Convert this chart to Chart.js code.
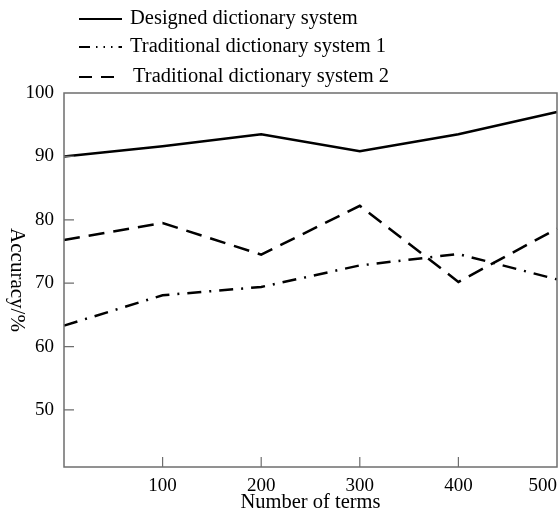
<!DOCTYPE html>
<html>
<head>
<meta charset="utf-8">
<script src="https://cdn.jsdelivr.net/npm/chart.js@4.4.1/dist/chart.umd.min.js"></script>
<style>
  html, body { margin: 0; padding: 0; background: #fff; }
  #wrap { width: 560px; height: 515px; }
</style>
</head>
<body>
<div id="wrap"><canvas id="myChart" width="560" height="515"></canvas></div>
<script>
// data
var termCounts = ['0', '100', '200', '300', '400', '500'];
var designedAcc = [90, 91.6, 93.5, 90.8, 93.5, 97];
var traditional1Acc = [63.3, 68.1, 69.4, 72.8, 74.6, 70.6];
var traditional2Acc = [76.8, 79.5, 74.5, 82.2, 70.2, 78.6];
var yTicks = [50, 60, 70, 80, 90, 100];

var serif = '"Liberation Serif", "DejaVu Serif", serif';
var axisColor = '#6e6e6e';

var ctx = document.getElementById('myChart').getContext('2d');

// frame, inward tick marks, rotated y title and legend
var decorations = {
    id: 'decorations',
    afterDraw: function (chart) {
        var c = chart.ctx;
        var area = chart.chartArea;
        var xs = chart.scales.x, ys = chart.scales.y;
        c.save();
        c.strokeStyle = axisColor;
        c.lineWidth = 1.5;
        c.strokeRect(area.left, area.top, area.right - area.left, area.bottom - area.top);

        c.lineWidth = 1.2;
        c.beginPath();
        yTicks.forEach(function (v) {
            if (v >= 100) return;
            var py = ys.getPixelForValue(v);
            c.moveTo(area.left, py);
            c.lineTo(area.left + 10, py);
        });
        termCounts.forEach(function (t, i) {
            if (i == 0 || i == termCounts.length - 1) return;
            var px = xs.getPixelForValue(i);
            c.moveTo(px, area.bottom);
            c.lineTo(px, area.bottom - 10);
        });
        c.stroke();

        // y title, reads top to bottom
        c.fillStyle = '#000';
        c.font = '21px ' + serif;
        c.textAlign = 'center';
        c.textBaseline = 'middle';
        c.translate(17, 280);
        c.rotate(Math.PI / 2);
        c.fillText('Accuracy/%', 0, 0);
        c.restore();

        // legend
        c.save();
        c.font = '20.5px ' + serif;
        c.textBaseline = 'middle';
        c.fillStyle = '#000';
        var rows = [19, 47, 77];
        var textX = [130, 130, 133];
        chart.data.datasets.forEach(function (ds, i) {
            c.strokeStyle = '#000';
            c.lineWidth = 2;
            c.setLineDash(ds.legendDash || []);
            c.beginPath();
            c.moveTo(79, rows[i]);
            c.lineTo(122, rows[i]);
            c.stroke();
            c.setLineDash([]);
            c.fillText(ds.label, textX[i], rows[i]);
        });
        c.restore();
    }
};

var graphData = {
    type: 'line',
    data: {
        labels: termCounts,
        datasets: [
            {
                label: 'Designed dictionary system',
                data: designedAcc,
                borderColor: '#000',
                borderWidth: 2.5,
                pointRadius: 0,
                tension: 0
            },
            {
                label: 'Traditional dictionary system 1',
                data: traditional1Acc,
                borderColor: '#000',
                borderWidth: 2.5,
                borderDash: [14, 8, 2, 8],
                legendDash: [11, 6, 1.5, 6, 1.5, 6, 1.5, 6],
                pointRadius: 0,
                tension: 0
            },
            {
                label: 'Traditional dictionary system 2',
                data: traditional2Acc,
                borderColor: '#000',
                borderWidth: 2.5,
                borderDash: [16, 9],
                legendDash: [13, 9],
                pointRadius: 0,
                tension: 0
            }
        ]
    },
    options: {
        responsive: false,
        animation: false,
        layout: { padding: { top: 93, right: 3, left: 0, bottom: 0 } },
        plugins: {
            legend: { display: false },
            tooltip: { enabled: false }
        },
        scales: {
            x: {
                type: 'category',
                offset: false,
                grid: { display: false, drawTicks: false },
                border: { display: false },
                ticks: {
                    padding: 8,
                    align: 'inner',
                    maxRotation: 0,
                    autoSkip: false,
                    color: '#000',
                    font: { family: serif, size: 19 },
                    callback: function (v, i) { return i == 0 ? '' : termCounts[i]; }
                },
                title: {
                    display: true,
                    text: 'Number of terms',
                    color: '#000',
                    font: { family: serif, size: 20.5 },
                    padding: { top: 3, bottom: 0 }
                },
                afterFit: function (s) {
                    s.height = 48;
                    s.paddingLeft = 0;
                    s.paddingRight = 0;
                }
            },
            y: {
                min: 41,
                max: 100,
                grid: { display: false, drawTicks: false },
                border: { display: false },
                afterBuildTicks: function (s) {
                    s.ticks = yTicks.map(function (v) { return { value: v }; });
                },
                ticks: {
                    padding: 10,
                    color: '#000',
                    font: { family: serif, size: 19 }
                },
                afterFit: function (s) { s.width = 64; }
            }
        }
    },
    plugins: [decorations]
};

var myChart = new Chart(ctx, graphData);
</script>
</body>
</html>
